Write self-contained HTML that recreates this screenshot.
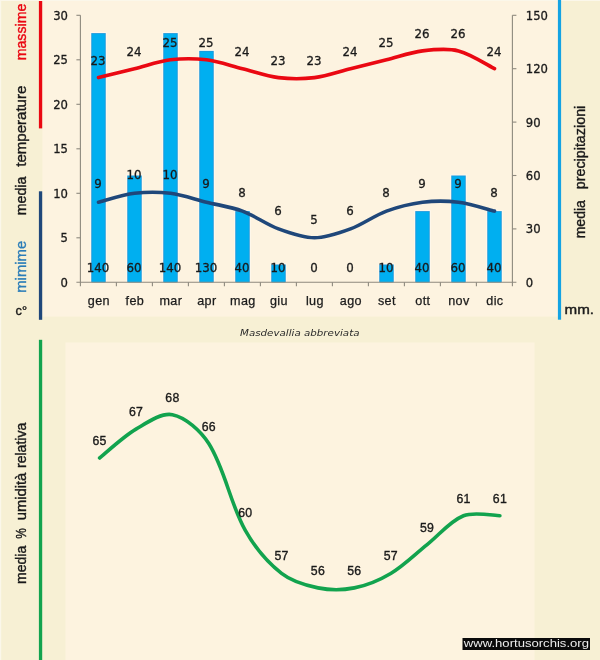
<!DOCTYPE html>
<html lang="it"><head><meta charset="utf-8">
<title>Masdevallia abbreviata</title>
<style>
html,body{margin:0;padding:0;background:#f7f0d4;}
body{width:600px;height:660px;overflow:hidden;}
svg{display:block;}
text{font-family:'Liberation Sans', sans-serif;fill:#1a1a1a;}
.v{font-family:'DejaVu Sans', 'Liberation Sans', sans-serif;stroke:#1a1a1a;stroke-width:0.3px;}
.c{stroke:#1a1a1a;stroke-width:0.25px;letter-spacing:0.4px;}
.h{stroke:#1a1a1a;stroke-width:0.35px;letter-spacing:0.2px;}
.r{stroke:#1a1a1a;stroke-width:0.4px;}
</style></head><body>
<svg width="600" height="660" viewBox="0 0 600 660">
<rect x="0" y="0" width="600" height="660" fill="#f7f0d4"/>
<rect x="42.4" y="1" width="515.6" height="315.6" fill="#fdf3e0"/>
<rect x="65.5" y="342.5" width="469" height="318" fill="#fdf3df"/>
<rect x="0" y="0" width="600" height="1" fill="#fbf7ea"/>
<rect x="0" y="0" width="1.2" height="660" fill="#fbf7ea"/>
<rect x="38.9" y="1" width="3.3" height="127.4" fill="#ea0812"/>
<rect x="38.9" y="191.3" width="3.3" height="128.5" fill="#1f477a"/>
<rect x="38.9" y="339.8" width="3.3" height="321" fill="#12a34e"/>
<rect x="557.9" y="0" width="3.2" height="319.7" fill="#14a3e3"/>
<rect x="90.25" y="32.10" width="16.50" height="250.20" fill="#ffffff" fill-opacity="0.45"/>
<rect x="91.25" y="33.10" width="14.50" height="249.20" fill="#1c98dc"/>
<rect x="92.15" y="34.00" width="12.70" height="248.30" fill="#00aff0"/>
<rect x="126.25" y="174.50" width="16.50" height="107.80" fill="#ffffff" fill-opacity="0.45"/>
<rect x="127.25" y="175.50" width="14.50" height="106.80" fill="#1c98dc"/>
<rect x="128.15" y="176.40" width="12.70" height="105.90" fill="#00aff0"/>
<rect x="162.25" y="32.10" width="16.50" height="250.20" fill="#ffffff" fill-opacity="0.45"/>
<rect x="163.25" y="33.10" width="14.50" height="249.20" fill="#1c98dc"/>
<rect x="164.15" y="34.00" width="12.70" height="248.30" fill="#00aff0"/>
<rect x="198.25" y="49.90" width="16.50" height="232.40" fill="#ffffff" fill-opacity="0.45"/>
<rect x="199.25" y="50.90" width="14.50" height="231.40" fill="#1c98dc"/>
<rect x="200.15" y="51.80" width="12.70" height="230.50" fill="#00aff0"/>
<rect x="234.25" y="210.10" width="16.50" height="72.20" fill="#ffffff" fill-opacity="0.45"/>
<rect x="235.25" y="211.10" width="14.50" height="71.20" fill="#1c98dc"/>
<rect x="236.15" y="212.00" width="12.70" height="70.30" fill="#00aff0"/>
<rect x="270.25" y="263.50" width="16.50" height="18.80" fill="#ffffff" fill-opacity="0.45"/>
<rect x="271.25" y="264.50" width="14.50" height="17.80" fill="#1c98dc"/>
<rect x="272.15" y="265.40" width="12.70" height="16.90" fill="#00aff0"/>
<rect x="378.25" y="263.50" width="16.50" height="18.80" fill="#ffffff" fill-opacity="0.45"/>
<rect x="379.25" y="264.50" width="14.50" height="17.80" fill="#1c98dc"/>
<rect x="380.15" y="265.40" width="12.70" height="16.90" fill="#00aff0"/>
<rect x="414.25" y="210.10" width="16.50" height="72.20" fill="#ffffff" fill-opacity="0.45"/>
<rect x="415.25" y="211.10" width="14.50" height="71.20" fill="#1c98dc"/>
<rect x="416.15" y="212.00" width="12.70" height="70.30" fill="#00aff0"/>
<rect x="450.25" y="174.50" width="16.50" height="107.80" fill="#ffffff" fill-opacity="0.45"/>
<rect x="451.25" y="175.50" width="14.50" height="106.80" fill="#1c98dc"/>
<rect x="452.15" y="176.40" width="12.70" height="105.90" fill="#00aff0"/>
<rect x="486.25" y="210.10" width="16.50" height="72.20" fill="#ffffff" fill-opacity="0.45"/>
<rect x="487.25" y="211.10" width="14.50" height="71.20" fill="#1c98dc"/>
<rect x="488.15" y="212.00" width="12.70" height="70.30" fill="#00aff0"/>
<g stroke="#8e897e" stroke-width="1.1" fill="none">
<path d="M80.40,15.30 V286.30"/>
<path d="M512.40,15.30 V286.30"/>
<path d="M76.40,282.30 H516.40"/>
<path d="M76.40,237.80 H80.40"/>
<path d="M76.40,193.30 H80.40"/>
<path d="M76.40,148.80 H80.40"/>
<path d="M76.40,104.30 H80.40"/>
<path d="M76.40,59.80 H80.40"/>
<path d="M76.40,15.30 H80.40"/>
<path d="M512.40,228.90 H516.40"/>
<path d="M512.40,175.50 H516.40"/>
<path d="M512.40,122.10 H516.40"/>
<path d="M512.40,68.70 H516.40"/>
<path d="M512.40,15.30 H516.40"/>
<path d="M116.40,282.30 V286.30"/>
<path d="M152.40,282.30 V286.30"/>
<path d="M188.40,282.30 V286.30"/>
<path d="M224.40,282.30 V286.30"/>
<path d="M260.40,282.30 V286.30"/>
<path d="M296.40,282.30 V286.30"/>
<path d="M332.40,282.30 V286.30"/>
<path d="M368.40,282.30 V286.30"/>
<path d="M404.40,282.30 V286.30"/>
<path d="M440.40,282.30 V286.30"/>
<path d="M476.40,282.30 V286.30"/>
</g>
<text class="v" x="67.9" y="286.8" font-size="11.6" text-anchor="end">0</text>
<text class="v" x="67.9" y="242.3" font-size="11.6" text-anchor="end">5</text>
<text class="v" x="67.9" y="197.8" font-size="11.6" text-anchor="end">10</text>
<text class="v" x="67.9" y="153.3" font-size="11.6" text-anchor="end">15</text>
<text class="v" x="67.9" y="108.8" font-size="11.6" text-anchor="end">20</text>
<text class="v" x="67.9" y="64.3" font-size="11.6" text-anchor="end">25</text>
<text class="v" x="67.9" y="19.8" font-size="11.6" text-anchor="end">30</text>
<text class="v" x="525.8" y="286.8" font-size="11.6">0</text>
<text class="v" x="525.8" y="233.4" font-size="11.6">30</text>
<text class="v" x="525.8" y="180.0" font-size="11.6">60</text>
<text class="v" x="525.8" y="126.6" font-size="11.6">90</text>
<text class="v" x="525.8" y="73.2" font-size="11.6">120</text>
<text class="v" x="525.8" y="19.8" font-size="11.6">150</text>
<text class="c" x="98.9" y="305" font-size="12.6" text-anchor="middle">gen</text>
<text class="c" x="134.9" y="305" font-size="12.6" text-anchor="middle">feb</text>
<text class="c" x="170.9" y="305" font-size="12.6" text-anchor="middle">mar</text>
<text class="c" x="206.9" y="305" font-size="12.6" text-anchor="middle">apr</text>
<text class="c" x="242.9" y="305" font-size="12.6" text-anchor="middle">mag</text>
<text class="c" x="278.9" y="305" font-size="12.6" text-anchor="middle">giu</text>
<text class="c" x="314.9" y="305" font-size="12.6" text-anchor="middle">lug</text>
<text class="c" x="350.9" y="305" font-size="12.6" text-anchor="middle">ago</text>
<text class="c" x="386.9" y="305" font-size="12.6" text-anchor="middle">set</text>
<text class="c" x="422.9" y="305" font-size="12.6" text-anchor="middle">ott</text>
<text class="c" x="458.9" y="305" font-size="12.6" text-anchor="middle">nov</text>
<text class="c" x="494.9" y="305" font-size="12.6" text-anchor="middle">dic</text>
<path d="M98.50,77.60 C104.50,76.12 122.50,71.67 134.50,68.70 C146.50,65.73 158.32,61.31 170.50,59.80 C182.32,58.34 194.68,58.34 206.50,59.80 C218.68,61.31 230.50,65.73 242.50,68.70 C254.50,71.67 266.32,76.09 278.50,77.60 C290.32,79.06 302.68,79.06 314.50,77.60 C326.68,76.09 338.50,71.67 350.50,68.70 C362.50,65.73 374.50,62.77 386.50,59.80 C398.50,56.83 410.32,52.41 422.50,50.90 C434.32,49.44 447.16,48.10 458.50,50.90 C471.16,54.03 488.50,65.73 494.50,68.70" fill="none" stroke="#ea0812" stroke-width="3.6" stroke-linecap="round" stroke-linejoin="round"/>
<path d="M98.50,202.20 C104.50,200.72 122.32,194.81 134.50,193.30 C146.32,191.84 158.68,191.84 170.50,193.30 C182.68,194.81 194.50,199.23 206.50,202.20 C218.50,205.17 230.98,206.83 242.50,211.10 C254.98,215.73 266.02,224.27 278.50,228.90 C290.02,233.17 302.50,237.80 314.50,237.80 C326.50,237.80 338.98,233.17 350.50,228.90 C362.98,224.27 374.02,215.73 386.50,211.10 C398.02,206.83 410.32,203.71 422.50,202.20 C434.32,200.74 446.68,200.74 458.50,202.20 C470.68,203.71 488.50,209.62 494.50,211.10" fill="none" stroke="#1f477a" stroke-width="3.6" stroke-linecap="round" stroke-linejoin="round"/>
<text class="v" x="97.9" y="64.8" font-size="11.8" text-anchor="middle">23</text>
<text class="v" x="133.9" y="55.9" font-size="11.8" text-anchor="middle">24</text>
<text class="v" x="169.9" y="47.0" font-size="11.8" text-anchor="middle">25</text>
<text class="v" x="205.9" y="47.0" font-size="11.8" text-anchor="middle">25</text>
<text class="v" x="241.9" y="55.9" font-size="11.8" text-anchor="middle">24</text>
<text class="v" x="277.9" y="64.8" font-size="11.8" text-anchor="middle">23</text>
<text class="v" x="313.9" y="64.8" font-size="11.8" text-anchor="middle">23</text>
<text class="v" x="349.9" y="55.9" font-size="11.8" text-anchor="middle">24</text>
<text class="v" x="385.9" y="47.0" font-size="11.8" text-anchor="middle">25</text>
<text class="v" x="421.9" y="38.1" font-size="11.8" text-anchor="middle">26</text>
<text class="v" x="457.9" y="38.1" font-size="11.8" text-anchor="middle">26</text>
<text class="v" x="493.9" y="55.9" font-size="11.8" text-anchor="middle">24</text>
<text class="v" x="97.9" y="188.0" font-size="11.8" text-anchor="middle">9</text>
<text class="v" x="133.9" y="179.1" font-size="11.8" text-anchor="middle">10</text>
<text class="v" x="169.9" y="179.1" font-size="11.8" text-anchor="middle">10</text>
<text class="v" x="205.9" y="188.0" font-size="11.8" text-anchor="middle">9</text>
<text class="v" x="241.9" y="196.9" font-size="11.8" text-anchor="middle">8</text>
<text class="v" x="277.9" y="214.7" font-size="11.8" text-anchor="middle">6</text>
<text class="v" x="313.9" y="223.6" font-size="11.8" text-anchor="middle">5</text>
<text class="v" x="349.9" y="214.7" font-size="11.8" text-anchor="middle">6</text>
<text class="v" x="385.9" y="196.9" font-size="11.8" text-anchor="middle">8</text>
<text class="v" x="421.9" y="188.0" font-size="11.8" text-anchor="middle">9</text>
<text class="v" x="457.9" y="188.0" font-size="11.8" text-anchor="middle">9</text>
<text class="v" x="493.9" y="196.9" font-size="11.8" text-anchor="middle">8</text>
<text class="v" x="97.9" y="271.7" font-size="11.8" text-anchor="middle">140</text>
<text class="v" x="133.9" y="271.7" font-size="11.8" text-anchor="middle">60</text>
<text class="v" x="169.9" y="271.7" font-size="11.8" text-anchor="middle">140</text>
<text class="v" x="205.9" y="271.7" font-size="11.8" text-anchor="middle">130</text>
<text class="v" x="241.9" y="271.7" font-size="11.8" text-anchor="middle">40</text>
<text class="v" x="277.9" y="271.7" font-size="11.8" text-anchor="middle">10</text>
<text class="v" x="313.9" y="271.7" font-size="11.8" text-anchor="middle">0</text>
<text class="v" x="349.9" y="271.7" font-size="11.8" text-anchor="middle">0</text>
<text class="v" x="385.9" y="271.7" font-size="11.8" text-anchor="middle">10</text>
<text class="v" x="421.9" y="271.7" font-size="11.8" text-anchor="middle">40</text>
<text class="v" x="457.9" y="271.7" font-size="11.8" text-anchor="middle">60</text>
<text class="v" x="493.9" y="271.7" font-size="11.8" text-anchor="middle">40</text>
<text class="r" transform="translate(26.2,60.3) rotate(-90)" font-size="15" textLength="56.6" lengthAdjust="spacingAndGlyphs" style="fill:#ea0812;stroke:#ea0812">massime</text>
<text class="r" transform="translate(26.2,166.8) rotate(-90)" font-size="15" textLength="81.1" lengthAdjust="spacingAndGlyphs">temperature</text>
<text class="r" transform="translate(26.2,215.3) rotate(-90)" font-size="15" textLength="38.6" lengthAdjust="spacingAndGlyphs">media</text>
<text class="r" transform="translate(26.2,292.8) rotate(-90)" font-size="15" textLength="52.1" lengthAdjust="spacingAndGlyphs" style="fill:#2b7db8;stroke:#2b7db8">mimime</text>
<text class="r" x="15.5" y="314.5" font-size="13.6" textLength="11.5" lengthAdjust="spacingAndGlyphs">c°</text>
<text class="r" transform="translate(585.2,189.3) rotate(-90)" font-size="15" textLength="83.6" lengthAdjust="spacingAndGlyphs">precipitazioni</text>
<text class="r" transform="translate(585.2,238.3) rotate(-90)" font-size="15" textLength="38.1" lengthAdjust="spacingAndGlyphs">media</text>
<text class="r" x="564.5" y="314.2" font-size="13.6" textLength="29.5" lengthAdjust="spacingAndGlyphs">mm.</text>
<text x="240" y="335.6" font-size="9" font-style="italic" textLength="119.5" lengthAdjust="spacingAndGlyphs" style="font-family:'DejaVu Sans', 'Liberation Sans', sans-serif;fill:#2a2a2a">Masdevallia abbreviata</text>
<path d="M99.60,458.00 C105.67,453.19 122.83,436.97 135.99,429.14 C147.09,422.54 161.29,412.51 172.38,414.71 C185.55,417.32 200.74,430.84 208.77,443.57 C225.01,469.32 230.02,503.13 245.16,530.15 C254.28,546.42 267.22,562.07 281.55,573.44 C291.48,581.31 305.37,585.38 317.95,587.87 C329.63,590.19 342.65,590.19 354.34,587.87 C366.91,585.38 379.63,580.04 390.73,573.44 C403.89,565.61 414.99,554.20 427.12,544.58 C439.25,534.96 449.91,521.11 463.51,515.72 C474.17,511.49 493.83,515.72 499.90,515.72" fill="none" stroke="#12a34e" stroke-width="3.6" stroke-linecap="round" stroke-linejoin="round"/>
<text class="h" x="99.6" y="444.9" font-size="12.3" text-anchor="middle">65</text>
<text class="h" x="136.0" y="416.0" font-size="12.3" text-anchor="middle">67</text>
<text class="h" x="172.4" y="401.6" font-size="12.3" text-anchor="middle">68</text>
<text class="h" x="208.8" y="430.5" font-size="12.3" text-anchor="middle">66</text>
<text class="h" x="245.2" y="517.0" font-size="12.3" text-anchor="middle">60</text>
<text class="h" x="281.6" y="560.3" font-size="12.3" text-anchor="middle">57</text>
<text class="h" x="317.9" y="574.8" font-size="12.3" text-anchor="middle">56</text>
<text class="h" x="354.3" y="574.8" font-size="12.3" text-anchor="middle">56</text>
<text class="h" x="390.7" y="560.3" font-size="12.3" text-anchor="middle">57</text>
<text class="h" x="427.1" y="531.5" font-size="12.3" text-anchor="middle">59</text>
<text class="h" x="463.5" y="502.6" font-size="12.3" text-anchor="middle">61</text>
<text class="h" x="499.9" y="502.6" font-size="12.3" text-anchor="middle">61</text>
<text class="r" transform="translate(26.2,468.0) rotate(-90)" font-size="15" textLength="45.2" lengthAdjust="spacingAndGlyphs">relativa</text>
<text class="r" transform="translate(26.2,520.3) rotate(-90)" font-size="15" textLength="47.5" lengthAdjust="spacingAndGlyphs">umidità</text>
<text class="r" transform="translate(26.2,538.8) rotate(-90)" font-size="15" textLength="10.6" lengthAdjust="spacingAndGlyphs">%</text>
<text class="r" transform="translate(26.2,584.0) rotate(-90)" font-size="15" textLength="38.2" lengthAdjust="spacingAndGlyphs">media</text>
<rect x="462.5" y="638" width="127.5" height="12" fill="#0a0a0a"/>
<text x="463.8" y="647.3" font-size="10.6" textLength="125.2" lengthAdjust="spacingAndGlyphs" style="fill:#ececec">www.hortusorchis.org</text>
</svg>
</body></html>
